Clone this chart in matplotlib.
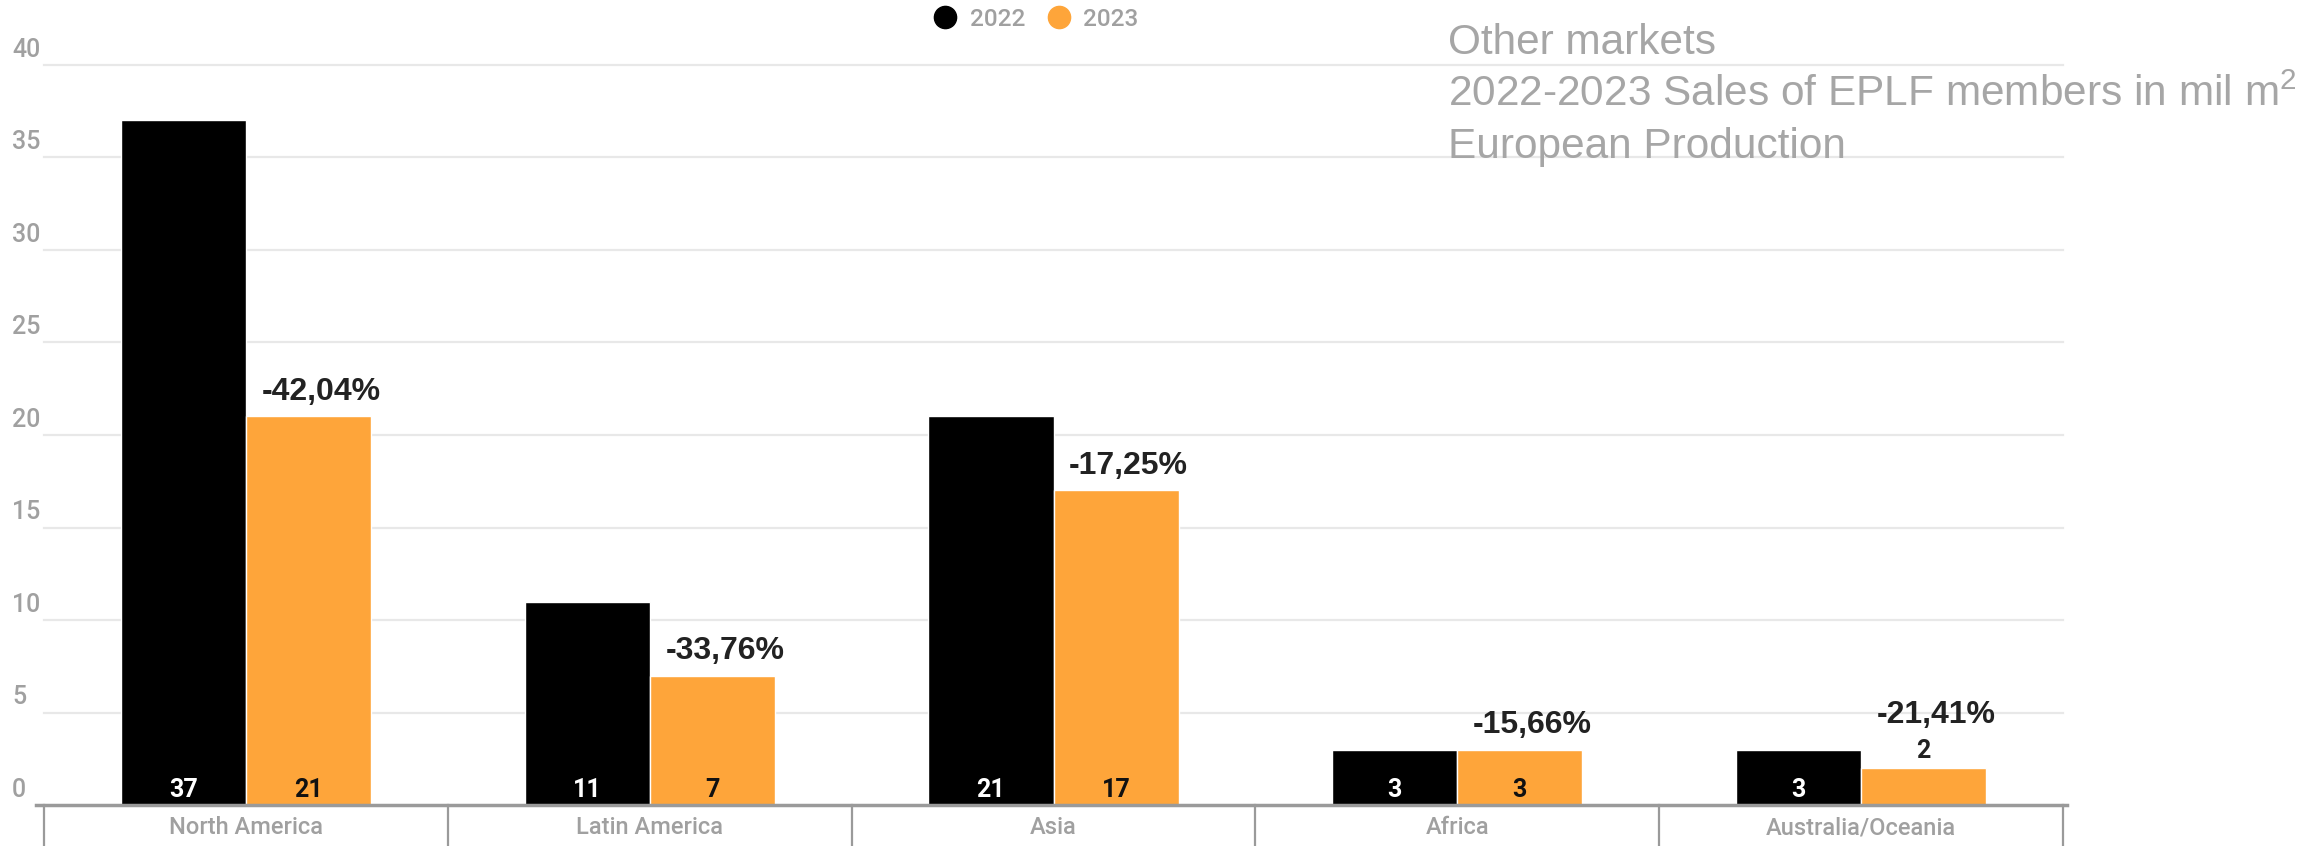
import numpy as np
import matplotlib.pyplot as plt

plt.rcParams["mathtext.fontset"] = "custom"
plt.rcParams["mathtext.rm"] = "Liberation Sans"

# Datos
regions = ["North America", "Latin America", "Asia", "Africa", "Australia/Oceania"]
sales_2022 = [37, 11, 21, 3, 3]
sales_2023 = [21, 7, 17, 3, 2]
changes = ["-42,04%", "-33,76%", "-17,25%", "-15,66%", "-21,41%"]
y_ticks = [0, 5, 10, 15, 20, 25, 30, 35, 40]
title_lines = ["Other markets", "2022-2023 Sales of EPLF members in mil m$\\mathregular{^2}$", "European Production"]

c22 = "#000000"
c23 = "#fea53a"
grey = "#a0a0a0"

fig = plt.figure(figsize=(23.05, 8.46), dpi=100)
ax = fig.add_axes([44 / 2305, 41 / 846, (2063 - 44) / 2305, 740 / 846])
ax.set_xlim(-0.5, 4.5)
ax.set_ylim(0, 40)
for s in ax.spines.values():
    s.set_visible(False)

x = np.arange(len(regions))
w = 0.31

# Rejilla
for v in y_ticks[1:]:
    ax.axhline(v, color="#e8e8e8", lw=1.6, zorder=0, clip_on=False)
ax.set_yticks([])
ytr = ax.get_yaxis_transform()
for v in y_ticks:
    ax.annotate(str(v), xy=(-0.0158, v), xycoords=ytr, xytext=(0, 6), textcoords="offset points",
                ha="left", va="baseline", fontsize=18, fontweight="medium", color=grey, family="Roboto",
                annotation_clip=False)

b1 = ax.bar(x - w / 2, sales_2022, w, color=c22, edgecolor="white", lw=1, zorder=2, label="2022")
b2 = ax.bar(x + w / 2, sales_2023, w, color=c23, edgecolor="white", lw=1, zorder=2, label="2023")

# Linea base y separadores
ax.plot([-0.52, 4.51], [0, 0], color="#9a9a9a", lw=2.5, clip_on=False, zorder=3)
xtr = ax.get_xaxis_transform()
for b in np.arange(-0.5, 5.0, 1.0):
    ax.plot([b, b], [0, -0.08], color="#9a9a9a", lw=1.6, transform=xtr, clip_on=False)

ax.set_xticks(x)
ax.set_xticklabels(regions, fontsize=17, fontweight="medium", color=grey, family="Roboto")
ax.tick_params(axis="x", length=0, pad=8)

# Etiquetas de valores
for i in range(len(regions)):
    ax.annotate(str(sales_2022[i]), xy=(x[i] - w / 2, 0), xytext=(0, 11), textcoords="offset points",
                ha="center", va="center", fontsize=18, fontweight="bold", color="white", family="Roboto")
    v = sales_2023[i]
    if v < 2.5:
        ax.annotate(str(v), xy=(x[i] + w / 2, v), xytext=(0, 12), textcoords="offset points",
                    ha="center", va="center", fontsize=18, fontweight="bold", color="#222222", family="Roboto")
        off = 38
    else:
        ax.annotate(str(v), xy=(x[i] + w / 2, 0), xytext=(0, 11), textcoords="offset points",
                    ha="center", va="center", fontsize=18, fontweight="bold", color="#111111", family="Roboto")
        off = 18
    ax.annotate(changes[i], xy=(x[i] + w / 2, v), xytext=(9, off), textcoords="offset points",
                ha="center", va="center", fontsize=23, fontweight="bold", color="#222222",
                family="Liberation Sans")

# Leyenda
h1 = plt.Line2D([], [], marker="o", ls="", color=c22, markersize=16)
h2 = plt.Line2D([], [], marker="o", ls="", color=c23, markersize=16)
fig.legend([h1, h2], ["2022", "2023"], loc="center", bbox_to_anchor=(1036 / 2305, 1 - 19 / 846), ncol=2,
           frameon=False, handletextpad=0.5, columnspacing=0.9, handlelength=1.0,
           prop={"family": "Roboto", "size": 17.5, "weight": "medium"}, labelcolor=grey)

# Titulo
for k, line in enumerate(title_lines):
    fig.text(1448 / 2305, 1 - (43 + 52 * k) / 846, line, ha="left", va="center", fontsize=30.5,
             color="#a6a6a6", family="Liberation Sans")

fig.savefig("out.png", dpi=100)
